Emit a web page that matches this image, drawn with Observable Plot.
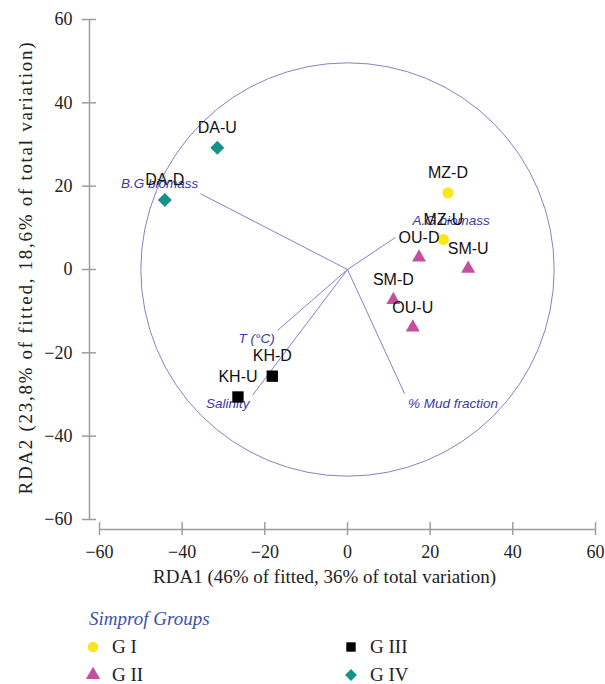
<!DOCTYPE html>
<html>
<head>
<meta charset="utf-8">
<script src="https://cdn.jsdelivr.net/npm/d3@7"></script>
<script src="https://cdn.jsdelivr.net/npm/@observablehq/plot@0.6"></script>
<style>
  body { margin: 0; background: #fff; }
  #chart { position: relative; width: 605px; height: 684px; overflow: hidden; }
  #chart > svg { position: absolute; left: 0; top: 0; }
  .legend-title { position: absolute; left: 89px; top: 609px; font: italic 19px "Liberation Serif", serif; line-height: 20px; color: #3d52a8; white-space: nowrap; }
  #legend { position: absolute; left: 85px; top: 633px; }
  .leg-swatches { font-family: "Liberation Serif", serif; font-size: 19px; color: #222; width: 516px; column-gap: 0; margin: 0; }
  .leg-swatch { height: 28px; padding-bottom: 0 !important; }
  .leg-swatch svg { margin-right: 11px !important; }
</style>
</head>
<body>
<div id="chart">
  <div class="legend-title">Simprof Groups</div>
  <div id="legend"></div>
</div>
<script>
// ---- data ----
const sites = ["MZ-D", "MZ-U", "OU-D", "SM-U", "SM-D", "OU-U", "KH-D", "KH-U", "DA-U", "DA-D"];
const rda1 = [24.3, 23.2, 17.3, 29.2, 11.1, 15.8, -18.2, -26.5, -31.5, -44.2];
const rda2 = [18.4, 7.2, 2.9, 0.2, -7.3, -13.9, -25.6, -30.6, 29.2, 16.7];
const siteGroups = ["G I", "G I", "G II", "G II", "G II", "G II", "G III", "G III", "G IV", "G IV"];

const groups = ["G I", "G II", "G III", "G IV"];
const groupSymbols = ["circle", "triangle", "square", "diamond2"];
const groupColors = ["#f8e71c", "#c24f9f", "#000000", "#15928a"];

const variables = ["B.G biomass", "A.G biomass", "T (°C)", "Salinity", "% Mud fraction"];
const varRDA1 = [-35.6, 11.6, -16.9, -23.0, 13.8];
const varRDA2 = [18.2, 7.7, -14.6, -30.2, -29.8];

const axisTicks = [-60, -40, -20, 0, 20, 40, 60];
const circleRadius = 50; // correlation circle (data units)

const xTitle = "RDA1 (46% of fitted, 36% of total variation)";
const yTitle = "RDA2 (23,8% of fitted, 18,6% of total variation)";

// ---- tables ----
const points = sites.map((s, i) => ({site: s, x: rda1[i], y: rda2[i], group: siteGroups[i]}));
const vectors = variables.map((v, i) => ({name: v, x: varRDA1[i], y: varRDA2[i]}));

// ---- style config ----
const markerR = {"G I": 5.6, "G II": 5.2, "G III": 6.4, "G IV": 6.3};
const vecLabelPlacement = {
  "B.G biomass": {textAnchor: "end", dx: -2, dy: -10},
  "A.G biomass": {textAnchor: "start", dx: 17, dy: -17},
  "T (°C)": {textAnchor: "end", dx: -3, dy: 8},
  "Salinity": {textAnchor: "end", dx: -3, dy: 8},
  "% Mud fraction": {textAnchor: "start", dx: 3.5, dy: 10}
};
const vecColor = "#7474c2";
const vecTextColor = "#3a3aa2";
const axisGray = "#9d9d9d";
const sans = "'Liberation Sans', Arial, sans-serif";
const serif = "'Liberation Serif', serif";

const pxPerUnit = (595 - 99) / 120;

const marks = [
  // correlation circle
  Plot.dot([{x: 0, y: 0}], {x: "x", y: "y", r: circleRadius * pxPerUnit, stroke: vecColor, strokeWidth: 0.9, fill: "none"}),
  // vectors
  Plot.link(vectors, {x1: 0, y1: 0, x2: "x", y2: "y", stroke: vecColor, strokeWidth: 0.9}),
  // vector labels
  ...variables.map(v => Plot.text(vectors.filter(d => d.name === v), {
    x: "x", y: "y", text: "name", fill: vecTextColor, fontFamily: sans, fontSize: 13.5, fontStyle: "italic",
    ...vecLabelPlacement[v]
  })),
  // site markers
  ...groups.map(g => Plot.dot(points.filter(d => d.group === g), {
    x: "x", y: "y", symbol: "group", fill: "group", r: markerR[g]
  })),
  // site labels
  Plot.text(points, {x: "x", y: "y", text: "site", dy: -20, fill: "#111", fontFamily: sans, fontSize: 16}),
  // axes
  Plot.ruleX([-60], {y1: -60, y2: 60, dx: -10, stroke: axisGray, strokeWidth: 1.5}),
  Plot.ruleY([-60], {x1: -60, x2: 60, dy: 10, stroke: axisGray, strokeWidth: 1.5}),
  Plot.axisY(axisTicks, {anchor: "left", tickSize: 14, dx: -3, tickPadding: 10, stroke: axisGray, strokeWidth: 1.5, fill: "#222", fontSize: 18, label: null}),
  Plot.axisX(axisTicks, {anchor: "bottom", tickSize: 13, dy: 3, tickPadding: 10, stroke: axisGray, strokeWidth: 1.5, fill: "#222", fontSize: 18, label: null}),
  // axis titles
  Plot.text([xTitle], {frameAnchor: "bottom", text: d => d, textAnchor: "middle", dx: -23, dy: 63, fontSize: 19, fill: "#222"}),
  Plot.text([yTitle], {frameAnchor: "left", text: d => d, textAnchor: "middle", lineAnchor: "middle", rotate: -90, dx: -74, dy: -1, fontSize: 19, fill: "#222"})
];

const plot = Plot.plot({
  width: 605,
  height: 600,
  marginLeft: 99,
  marginRight: 10,
  marginTop: 19,
  marginBottom: 81,
  x: {domain: [-60, 60], axis: null},
  y: {domain: [-60, 60], axis: null},
  color: {domain: groups, range: groupColors},
  symbol: {domain: groups, range: groupSymbols},
  style: {fontFamily: serif, fontSize: "18px", background: "white", overflow: "visible"},
  marks
});

// stretch the rotated y title to the reference's length
d3.select(plot).selectAll("text").filter(function () { return this.textContent === yTitle; })
  .attr("textLength", 452).attr("lengthAdjust", "spacing");

const chart = document.getElementById("chart");
chart.insertBefore(plot, chart.firstChild);

const legend = plot.legend("symbol", {columns: 2, className: "leg", swatchSize: 16, r: 5.3});
document.getElementById("legend").appendChild(legend);
</script>
</body>
</html>
